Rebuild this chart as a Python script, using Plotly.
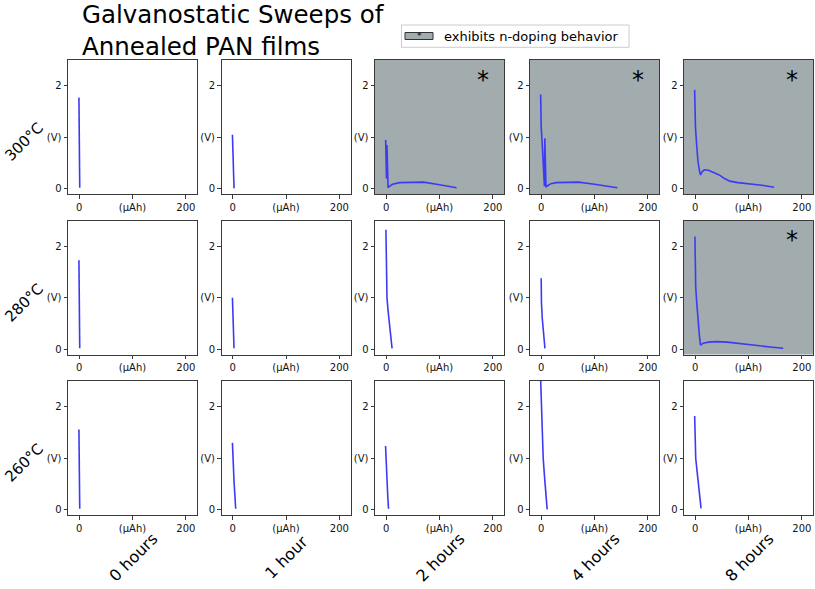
import plotly.graph_objects as go

# ---------------- data (capacity in µAh, voltage in V) ----------------
temps = ["300°C", "280°C", "260°C"]
times = ["0 hours", "1 hour", "2 hours", "4 hours", "8 hours"]
x_tick_vals = [0, 100, 200]
x_tick_text = ["0", "(μAh)", "200"]
y_tick_vals = [0, 1, 2]
y_tick_text = ["0", "(V)", "2"]

# 300 °C
q_300_0h = [-0.5, 0.0, 0.5, 1.0]
v_300_0h = [1.77, 1.2, 0.6, 0.02]
q_300_1h = [-0.5, 0.0, -0.3, 0.5, 1.5, 2.5]
v_300_1h = [1.05, 0.9, 0.7, 0.5, 0.25, 0.01]
q_300_2h = [-1.0, -0.5, 0.5, 1.5, 1.8, 2.5, 3.5, 6, 12, 25, 45, 70, 100, 132]
v_300_2h = [0.95, 0.6, 0.2, 0.85, 0.5, 0.1, 0.02, 0.05, 0.09, 0.12, 0.13, 0.13, 0.08, 0.02]
q_300_4h = [-1.0, 0.0, 2.5, 5.0, 6.0, 6.8, 7.5, 8.2, 9.0, 12, 18, 28, 45, 70, 100, 143]
v_300_4h = [1.83, 1.2, 0.76, 0.37, 0.05, 0.98, 0.5, 0.1, 0.03, 0.06, 0.1, 0.12, 0.13, 0.13, 0.09, 0.02]
q_300_8h = [-1.0, -0.5, 0.5, 2.5, 5, 8, 10, 13, 17, 25, 35, 45, 55, 65, 80, 100, 125, 148]
v_300_8h = [1.92, 1.6, 1.2, 0.89, 0.55, 0.35, 0.27, 0.33, 0.37, 0.36, 0.32, 0.27, 0.2, 0.15, 0.12, 0.1, 0.07, 0.03]

# 280 °C
q_280_0h = [-0.5, 0.0, 0.5, 1.0]
v_280_0h = [1.73, 1.2, 0.6, 0.02]
q_280_1h = [-0.5, 0.5, 1.5, 2.5]
v_280_1h = [1.0, 0.6, 0.3, 0.02]
q_280_2h = [-0.5, 0.0, 0.5, 1.5, 3.5, 6, 8.5, 11]
v_280_2h = [2.32, 1.9, 1.6, 1.0, 0.75, 0.5, 0.25, 0.02]
q_280_4h = [0.0, 0.0, 0.5, 2, 4, 6, 7]
v_280_4h = [1.38, 1.1, 0.9, 0.6, 0.35, 0.12, 0.02]
q_280_8h = [-0.5, 0.0, 1.0, 2.5, 5, 8, 10, 15, 25, 40, 60, 90, 120, 145, 165]
v_280_8h = [2.19, 1.6, 1.2, 0.96, 0.57, 0.25, 0.08, 0.12, 0.14, 0.15, 0.14, 0.1, 0.07, 0.04, 0.02]

# 260 °C
q_260_0h = [-0.5, 0.0, 0.5, 1.0]
v_260_0h = [1.56, 1.1, 0.5, 0.02]
q_260_1h = [-0.5, 0.0, 1.0, 2.5, 4.0, 5.6]
v_260_1h = [1.30, 1.1, 0.85, 0.55, 0.3, 0.02]
q_260_2h = [-1.2, 0.0, 1.5, 3.0, 4.4]
v_260_2h = [1.24, 0.85, 0.55, 0.25, 0.02]
q_260_4h = [-1.2, 0.3, 1.9, 3.7, 6.2, 8.7, 11.2]
v_260_4h = [2.6, 2.1, 1.63, 1.01, 0.65, 0.3, 0.01]
q_260_8h = [-1.0, -0.3, 1.0, 3.0, 5.0, 8.0, 11.0]
v_260_8h = [1.82, 1.5, 1.0, 0.8, 0.6, 0.3, 0.03]

n_doping = [[False, False, True, True, True],
            [False, False, False, False, True],
            [False, False, False, False, False]]

panels = [
    [(q_300_0h, v_300_0h), (q_300_1h, v_300_1h), (q_300_2h, v_300_2h), (q_300_4h, v_300_4h), (q_300_8h, v_300_8h)],
    [(q_280_0h, v_280_0h), (q_280_1h, v_280_1h), (q_280_2h, v_280_2h), (q_280_4h, v_280_4h), (q_280_8h, v_280_8h)],
    [(q_260_0h, v_260_0h), (q_260_1h, v_260_1h), (q_260_2h, v_260_2h), (q_260_4h, v_260_4h), (q_260_8h, v_260_8h)],
]

# ---------------- layout geometry (pixels) ----------------
W, H = 815, 589
col_left = [68, 221.5, 375, 530, 684]
row_top = [60, 220.5, 381]
pw, ph = 129, 134

FONT = "DejaVu Sans"
LINE_BLUE = "#3b3bf6"
GREY_BG = "#a2abad"
AX_COL = "#3a3a3a"

fig = go.Figure()
layout = dict(width=W, height=H, margin=dict(l=0, r=0, t=0, b=0),
              paper_bgcolor="white", plot_bgcolor="white", showlegend=False,
              font=dict(family=FONT, color="black"))
shapes = []
annotations = []

idx = 0
for r in range(3):
    for c in range(5):
        idx += 1
        xa = "xaxis" if idx == 1 else f"xaxis{idx}"
        ya = "yaxis" if idx == 1 else f"yaxis{idx}"
        xr = "x" if idx == 1 else f"x{idx}"
        yr = "y" if idx == 1 else f"y{idx}"
        x0 = col_left[c] / W
        x1 = (col_left[c] + pw) / W
        y1 = 1 - row_top[r] / H
        y0 = 1 - (row_top[r] + ph) / H
        layout[xa] = dict(domain=[x0, x1], range=[-21, 221], anchor=yr,
                          tickvals=x_tick_vals, ticktext=x_tick_text,
                          ticks="outside", ticklen=3.5, tickcolor=AX_COL,
                          showline=True, linecolor=AX_COL, linewidth=1, mirror=True,
                          showgrid=False, zeroline=False, fixedrange=True,
                          tickfont=dict(size=10, family=FONT, color="#111"))
        layout[ya] = dict(domain=[y0, y1], range=[-0.1, 2.5], anchor=xr,
                          tickvals=y_tick_vals, ticktext=y_tick_text,
                          ticks="outside", ticklen=3.5, tickcolor=AX_COL,
                          showline=True, linecolor=AX_COL, linewidth=1, mirror=True,
                          showgrid=False, zeroline=False, fixedrange=True,
                          tickfont=dict(size=10, family=FONT, color="#111"))
        q, v = panels[r][c]
        fig.add_trace(go.Scatter(x=q, y=v, mode="lines", xaxis=xr, yaxis=yr,
                                 line=dict(color=LINE_BLUE, width=1.6),
                                 hoverinfo="skip"))
        if n_doping[r][c]:
            shapes.append(dict(type="rect", xref=f"{xr} domain", yref=f"{yr} domain",
                               x0=0, x1=1, y0=0, y1=1, fillcolor=GREY_BG,
                               line=dict(width=0), layer="below"))
            annotations.append(dict(text="*", xref=xr, yref=yr, x=181, y=2.12,
                                    showarrow=False, xanchor="center", yanchor="middle",
                                    font=dict(size=24, family=FONT, color="black")))

# title
annotations.append(dict(text="Galvanostatic Sweeps of<br>Annealed PAN films",
                        xref="paper", yref="paper", x=80 / W, y=1 + 2 / H,
                        xanchor="left", yanchor="top", align="left", showarrow=False,
                        font=dict(size=24.5, family=FONT, color="black")))

# row labels
row_label_y = [142, 303, 463]
for r in range(3):
    annotations.append(dict(text=temps[r], xref="paper", yref="paper",
                            x=24 / W, y=1 - row_label_y[r] / H, textangle=-45,
                            xanchor="center", yanchor="middle", showarrow=False,
                            font=dict(size=15, family=FONT, color="black")))

# column labels
col_label_x = [133, 286, 440, 595, 749]
for c in range(5):
    annotations.append(dict(text=times[c], xref="paper", yref="paper",
                            x=col_label_x[c] / W, y=1 - 557 / H, textangle=-45,
                            xanchor="center", yanchor="middle", showarrow=False,
                            font=dict(size=16, family=FONT, color="black")))

# legend box
shapes.append(dict(type="rect", xref="paper", yref="paper",
                   x0=401.5 / W, x1=629 / W, y0=1 - 47.3 / H, y1=1 - 25 / H,
                   fillcolor="white", line=dict(color="#cccccc", width=1)))
shapes.append(dict(type="rect", xref="paper", yref="paper",
                   x0=405 / W, x1=433 / W, y0=1 - 39.5 / H, y1=1 - 32.5 / H,
                   fillcolor=GREY_BG, line=dict(color="#333333", width=1)))
annotations.append(dict(text="*", xref="paper", yref="paper", x=419 / W, y=1 - 36 / H,
                        xanchor="center", yanchor="middle", showarrow=False,
                        font=dict(size=9, family=FONT, color="black")))
annotations.append(dict(text="exhibits n-doping behavior", xref="paper", yref="paper",
                        x=442 / W, y=1 - 36 / H, xanchor="left", yanchor="middle",
                        showarrow=False, font=dict(size=13, family=FONT, color="black")))

layout["shapes"] = shapes
layout["annotations"] = annotations
fig.update_layout(**layout)
fig.write_html("out.html",
               config={"displayModeBar": False, "staticPlot": True},
               post_script="document.body.style.margin='0px';"
                           "document.body.style.padding='0px';"
                           "document.documentElement.style.overflow='hidden';")
